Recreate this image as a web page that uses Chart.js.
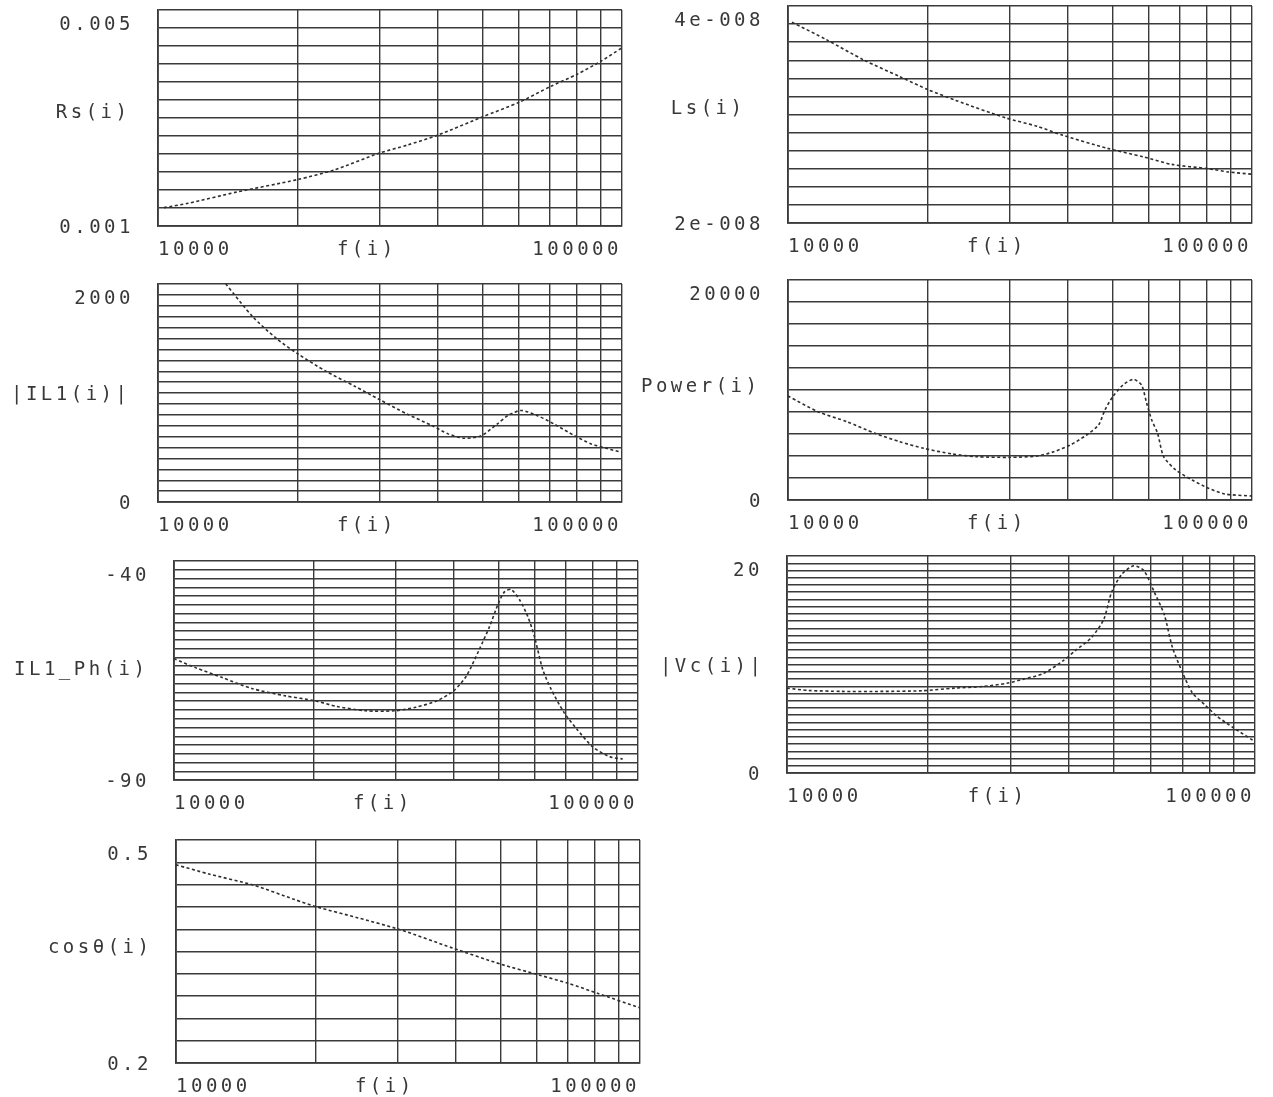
<!DOCTYPE html>
<html><head><meta charset="utf-8">
<script src="https://cdn.jsdelivr.net/npm/chart.js@4/dist/chart.umd.min.js"></script>
<style>
html,body{margin:0;padding:0;background:#fff;width:1273px;height:1097px;overflow:hidden;}
canvas{position:absolute;}
</style></head><body>
<script>
// ---------- shared x axis ----------
const xTickValues = [10000,20000,30000,40000,50000,60000,70000,80000,90000,100000];
const xTickLabels = ['10000','100000'];
const xTitle = 'f(i)';

// ---------- Rs(i) ----------
const rsTitle = 'Rs(i)';
const rsTickLabels = ['0.005','0.001'];
const rsRange = [0.001, 0.005];
const rsFreq   = [10300, 11600, 14800, 20000, 24000, 30000, 34500, 40000, 50000, 60000, 70000, 80000, 90000, 100000];
const rsValues = [0.00134,0.00142,0.00163,0.00186,0.00204,0.00235,0.00250,0.00268,0.00302,0.00329,0.00358,0.00381,0.00405,0.00430];

// ---------- Ls(i) ----------
const lsTitle = 'Ls(i)';
const lsTickLabels = ['4e-008','2e-008'];
const lsRange = [2e-8, 4e-8];
const lsFreq   = [10200, 12100, 14600, 17400, 20000, 23000, 29400, 34500, 39000, 48600, 58300, 67200, 80600, 89100, 100000];
const lsValues = [3.85e-8,3.69e-8,3.50e-8,3.35e-8,3.23e-8,3.13e-8,2.97e-8,2.89e-8,2.81e-8,2.69e-8,2.61e-8,2.54e-8,2.50e-8,2.47e-8,2.45e-8];

// ---------- |IL1(i)| ----------
const ilTitle = '|IL1(i)|';
const ilTickLabels = ['2000','0'];
const ilRange = [0, 2000];
const ilFreq   = [14000, 16000, 18000, 20000, 23000, 26600, 30000, 34500, 39000, 42200, 45800, 49600, 53800, 57100, 60700, 65900, 71400, 78900, 85600, 92900, 100000];
const ilValues = [2000, 1700, 1500, 1360, 1200, 1060, 940, 805, 700, 625, 585, 605, 715, 800, 840, 790, 715, 610, 535, 490, 455];

// ---------- Power(i) ----------
const pwTitle = 'Power(i)';
const pwTickLabels = ['20000','0'];
const pwRange = [0, 20000];
const pwFreq   = [10000, 11600, 13400, 15400, 17400, 19600, 22600, 25500, 30000, 34500, 37400, 40600, 44000, 46700, 48200, 50100, 52700, 55500, 57800, 59300, 60800, 62600, 64500, 68500, 74300, 80600, 87400, 100000];
const pwValues = [9450, 8030, 7120, 6060, 5300, 4700, 4180, 3940, 3880, 4000, 4390, 5000, 5910, 6820, 8180, 9390, 10450, 10970, 10450, 8790, 7270, 6060, 3940, 2730, 1820, 1060, 545, 360];

// ---------- IL1_Ph(i) ----------
const phTitle = 'IL1_Ph(i)';
const phTickLabels = ['-40','-90'];
const phRange = [-90, -40];
const phFreq   = [10000, 11150, 12700, 14700, 17400, 20100, 22400, 25900, 29900, 33200, 36900, 40100, 42700, 45500, 47900, 50000, 51600, 53300, 55600, 57900, 59800, 62300, 65000, 69200, 73700, 80000, 87000, 92700];
const phValues = [-62.3, -64.4, -66.6, -69.1, -70.8, -71.9, -73.2, -74.2, -74.2, -73.4, -71.9, -69.6, -66.2, -60.2, -54.9, -49.7, -47.0, -46.5, -48.9, -52.7, -57.2, -64.7, -69.3, -74.5, -78.3, -82.5, -84.7, -85.2];

// ---------- |Vc(i)| ----------
const vcTitle = '|Vc(i)|';
const vcTickLabels = ['20','0'];
const vcRange = [0, 20];
const vcFreq   = [10000, 11100, 13100, 15900, 19400, 22800, 26200, 29500, 31900, 35300, 39000, 41300, 44700, 47500, 49400, 52000, 55100, 57900, 60900, 64000, 66600, 69900, 73500, 78000, 82800, 89600, 99000];
const vcValues = [7.82, 7.61, 7.52, 7.52, 7.58, 7.82, 7.97, 8.27, 8.63, 9.17, 10.38, 11.28, 12.48, 14.14, 16.69, 18.35, 19.1, 18.65, 16.69, 14.59, 11.58, 9.32, 7.37, 6.32, 5.26, 4.21, 3.01];

// ---------- cosθ(i) ----------
const csTitle = 'cosθ(i)';
const csTickLabels = ['0.5','0.2'];
const csRange = [0.2, 0.5];
const csFreq   = [10000, 11830, 14640, 18000, 20200, 24700, 30400, 39500, 50200, 60600, 70100, 81200, 100000];
const csValues = [0.4666, 0.4539, 0.4395, 0.4200, 0.4096, 0.3952, 0.3794, 0.3545, 0.3328, 0.3184, 0.3071, 0.2935, 0.2741];

// ---------- layout / style (not data) ----------
const FONT_FAMILY = "'DejaVu Sans Mono', monospace";
const FONT_SIZE = 19;
const SPACING = 3.5;
const INK = '#383838';
const GRID = '#3a3a3a';
const PADL = 180, PADT = 30, PADR = 14, PADB = 50;
const XPAD = 13;

const panels = [
  {title: rsTitle, labels: rsTickLabels, range: rsRange, freq: rsFreq, values: rsValues, divs: 12, box: [158, 10, 622, 226], tRight: 127, tY: 113},
  {title: lsTitle, labels: lsTickLabels, range: lsRange, freq: lsFreq, values: lsValues, divs: 12, box: [788, 6, 1252, 223], tRight: 742, tY: 109},
  {title: ilTitle, labels: ilTickLabels, range: ilRange, freq: ilFreq, values: ilValues, divs: 20, box: [158, 284, 622, 502], tRight: 127, tY: 395},
  {title: pwTitle, labels: pwTickLabels, range: pwRange, freq: pwFreq, values: pwValues, divs: 10, box: [788, 280, 1252, 500], tRight: 757, tY: 387},
  {title: phTitle, labels: phTickLabels, range: phRange, freq: phFreq, values: phValues, divs: 25, box: [174, 561, 638, 780], tRight: 145, tY: 670},
  {title: vcTitle, labels: vcTickLabels, range: vcRange, freq: vcFreq, values: vcValues, divs: 30, box: [787, 556, 1255, 773], tRight: 761, tY: 667},
  {title: csTitle, labels: csTickLabels, range: csRange, freq: csFreq, values: csValues, divs: 10, box: [176, 840, 640, 1063], tRight: 149, tY: 948}
];

const spacingPlugin = {
  id: 'spacing',
  beforeUpdate(chart){ chart.ctx.letterSpacing = SPACING + 'px'; },
  beforeLayout(chart){ chart.ctx.letterSpacing = SPACING + 'px'; },
  beforeDraw(chart){ chart.ctx.letterSpacing = SPACING + 'px'; }
};

const titlePlugin = {
  id: 'titles',
  afterDraw(chart, args, opts){
    const ctx = chart.ctx, a = chart.chartArea;
    ctx.save();
    ctx.letterSpacing = SPACING + 'px';
    ctx.font = FONT_SIZE + 'px ' + FONT_FAMILY;
    ctx.fillStyle = INK;
    ctx.textBaseline = 'middle';
    ctx.textAlign = 'right';
    ctx.fillText(opts.yTitle, opts.tx + SPACING, opts.ty);
    ctx.textAlign = 'center';
    ctx.fillText(xTitle, a.left + 0.45 * (a.right - a.left), a.bottom + XPAD + FONT_SIZE * 0.6);
    ctx.restore();
  }
};

panels.forEach(p => {
  const [L, T, R, B] = p.box;
  const cv = document.createElement('canvas');
  const W = (R - L) + PADL + PADR, H = (B - T) + PADT + PADB;
  const ox = L - PADL, oy = T - PADT;
  cv.width = W; cv.height = H;
  cv.style.left = ox + 'px'; cv.style.top = oy + 'px';
  cv.style.width = W + 'px'; cv.style.height = H + 'px';
  document.body.appendChild(cv);

  new Chart(cv, {
    type: 'line',
    data: {
      datasets: [{
        data: p.freq.map((f, i) => ({x: f, y: p.values[i]})),
        borderColor: '#2e2e2e',
        borderWidth: 1.6,
        borderDash: [3, 2.5],
        pointRadius: 0,
        tension: 0.25,
        fill: false
      }]
    },
    options: {
      responsive: false,
      animation: false,
      devicePixelRatio: 1,
      layout: {padding: {left: 0, top: PADT, right: PADR, bottom: 0}},
      plugins: {
        legend: {display: false},
        tooltip: {enabled: false},
        titles: {yTitle: p.title, tx: p.tRight - ox, ty: p.tY - oy}
      },
      scales: {
        x: {
          type: 'logarithmic',
          min: 10000, max: 100000,
          afterBuildTicks: s => { s.ticks = xTickValues.map(v => ({value: v})); },
          afterFit: s => { s.height = PADB; s.paddingLeft = 0; s.paddingRight = 0; s.paddingTop = 0; s.paddingBottom = 0; },
          grid: {color: GRID, lineWidth: 1.4, drawTicks: false},
          border: {display: true, color: GRID, width: 1.8},
          ticks: {
            autoSkip: false, maxRotation: 0, minRotation: 0,
            align: 'inner', padding: XPAD, color: INK,
            font: {family: FONT_FAMILY, size: FONT_SIZE},
            callback: (v, i, t) => i === 0 ? xTickLabels[0] : (i === t.length - 1 ? xTickLabels[1] : '')
          }
        },
        y: {
          type: 'linear',
          min: p.range[0], max: p.range[1],
          afterBuildTicks: s => {
            const t = [];
            for (let i = 0; i <= p.divs; i++) t.push({value: p.range[0] + (p.range[1] - p.range[0]) * i / p.divs});
            s.ticks = t;
          },
          afterFit: s => { s.width = PADL; s.paddingTop = 0; s.paddingBottom = 0; s.paddingLeft = 0; s.paddingRight = 0; },
          grid: {color: GRID, lineWidth: 1.4, drawTicks: false},
          border: {display: true, color: GRID, width: 1.8},
          ticks: {
            autoSkip: false, padding: 24, color: INK, labelOffset: 2,
            font: {family: FONT_FAMILY, size: FONT_SIZE, lineHeight: 1.4},
            callback: (v, i, t) => i === t.length - 1 ? ['', p.labels[0]] : (i === 0 ? p.labels[1] : '')
          }
        }
      }
    },
    plugins: [spacingPlugin, titlePlugin]
  });
});
</script>
</body></html>
